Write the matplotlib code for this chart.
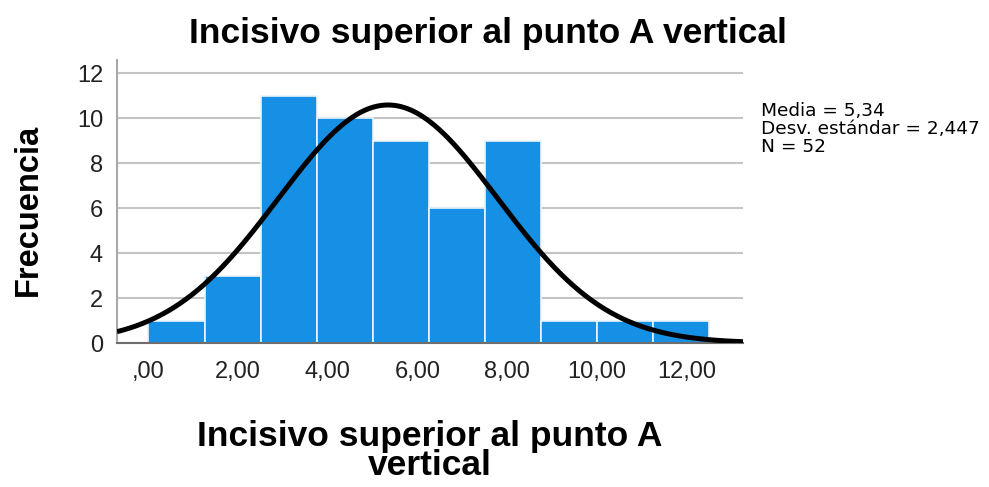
import numpy as np
import matplotlib
matplotlib.use("Agg")
from matplotlib import pyplot as plt

# histogram counts per bin (bin width 1.25 starting at 0)
bin_edges = [0.0, 1.25, 2.5, 3.75, 5.0, 6.25, 7.5, 8.75, 10.0, 11.25, 12.5]
counts = [1, 3, 11, 10, 9, 6, 9, 1, 1, 1]
mean = 5.34
std = 2.447
n = 52
x_ticks = [0, 2, 4, 6, 8, 10, 12]
x_tick_labels = [",00", "2,00", "4,00", "6,00", "8,00", "10,00", "12,00"]
y_ticks = [0, 2, 4, 6, 8, 10, 12]

plt.rcParams['font.family'] = ['Liberation Sans', 'DejaVu Sans']

fig = plt.figure(figsize=(9.89, 4.87), dpi=100)
axes = fig.add_axes([117 / 989, 1 - 343 / 487, (743 - 117) / 989, (343 - 60) / 487])

widths = np.diff(bin_edges)
axes.bar(bin_edges[:-1], counts, width=widths, align='edge',
         color='#1590E5', edgecolor='#EAF4FC', linewidth=1.2, zorder=2)

# normal curve scaled to counts
xs = np.linspace(-0.7, 13.25, 400)
bw = widths[0]
ys = n * bw / (std * np.sqrt(2 * np.pi)) * np.exp(-0.5 * ((xs - mean) / std) ** 2)
axes.plot(xs, ys, color='black', linewidth=3.6, zorder=3, solid_capstyle='butt')

axes.set_xlim(-0.7, 13.25)
axes.set_ylim(0, 12.6)
axes.set_yticks(y_ticks)
axes.set_xticks(x_ticks)
axes.set_xticklabels(x_tick_labels)
axes.tick_params(axis='both', length=0, labelsize=17, colors='#222222')
axes.tick_params(axis='x', pad=13)
axes.tick_params(axis='y', pad=10)
axes.yaxis.grid(True, color='#C4C4C4', linewidth=1.5, zorder=0)
axes.set_axisbelow(True)

for side in ['top', 'right']:
    axes.spines[side].set_visible(False)
axes.spines['left'].set_color('#A8A8A8')
axes.spines['left'].set_linewidth(1.5)
axes.spines['bottom'].set_color('#6E6E6E')
axes.spines['bottom'].set_linewidth(1.5)

fig.text(488 / 989, 1 - 34 / 487, 'Incisivo superior al punto A vertical', ha='center', va='center',
         fontsize=25.5, fontweight='bold')
fig.text(430 / 989, 1 - 451 / 487, 'Incisivo superior al punto A\nvertical', ha='center',
         va='center', fontsize=25.5, fontweight='bold', linespacing=0.88)
fig.text(28 / 989, 1 - 210 / 487, 'Frecuencia', rotation=90, ha='center', va='center',
         fontsize=23.5, fontweight='bold')

fig.text(761 / 989, 1 - 129 / 487,
         'Media = 5,34\nDesv. estándar = 2,447\nN = 52',
         ha='left', va='center', fontsize=13.3, linespacing=1.0, family=['DejaVu Sans'])

fig.savefig('out.png', dpi=100)
